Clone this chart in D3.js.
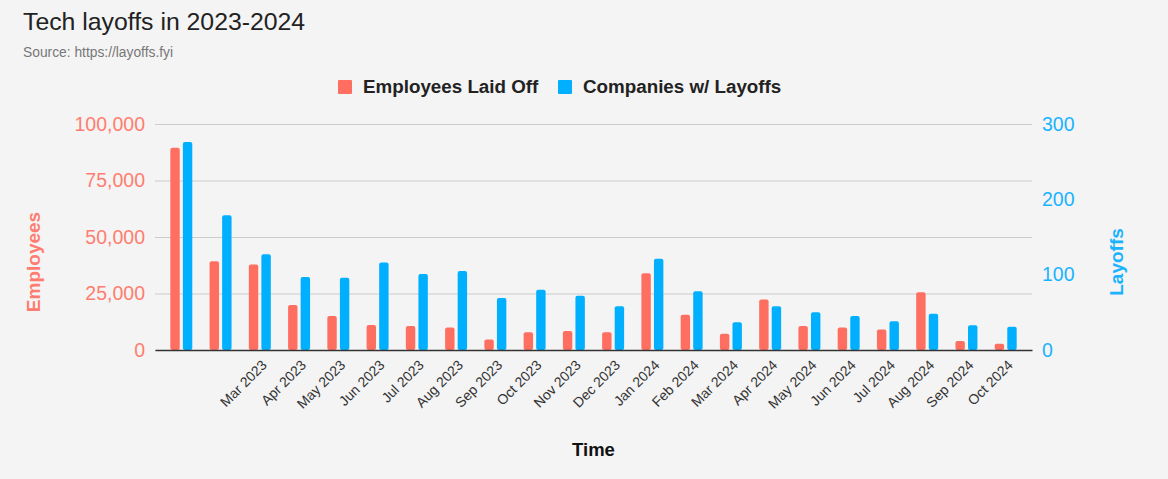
<!DOCTYPE html>
<html>
<head>
<meta charset="utf-8">
<script src="https://cdn.jsdelivr.net/npm/d3@7"></script>
<style>
  body { margin: 0; background: #f4f4f4; }
  text { font-family: Arial, "Liberation Sans", sans-serif; }
</style>
</head>
<body>
<svg id="chart" width="1168" height="479"></svg>
<script>
// data
const months = ["Jan 2023", "Feb 2023", "Mar 2023", "Apr 2023", "May 2023", "Jun 2023",
  "Jul 2023", "Aug 2023", "Sep 2023", "Oct 2023", "Nov 2023", "Dec 2023",
  "Jan 2024", "Feb 2024", "Mar 2024", "Apr 2024", "May 2024", "Jun 2024",
  "Jul 2024", "Aug 2024", "Sep 2024", "Oct 2024"];
// the first two labels are not shown in the original
const tickLabels = ["", "", "Mar 2023", "Apr 2023", "May 2023", "Jun 2023",
  "Jul 2023", "Aug 2023", "Sep 2023", "Oct 2023", "Nov 2023", "Dec 2023",
  "Jan 2024", "Feb 2024", "Mar 2024", "Apr 2024", "May 2024", "Jun 2024",
  "Jul 2024", "Aug 2024", "Sep 2024", "Oct 2024"];
const employeesLaidOff = [89500, 39300, 37800, 19900, 15000, 11100, 10600, 10000, 4600, 7800, 8400, 7800,
  34000, 15600, 7200, 22300, 10600, 10000, 9100, 25500, 4000, 2800];
const companiesWithLayoffs = [276, 179, 127, 97, 96, 116, 101, 105, 69, 80, 72, 58,
  121, 78, 37, 58, 50, 45, 38, 48, 33, 31];
const seriesNames = ["Employees Laid Off", "Companies w/ Layoffs"];
const leftTicks = [0, 25000, 50000, 75000, 100000];
const rightTicks = [0, 100, 200, 300];

const red = "#ff6f61", blue = "#00b0ff";
const plotL = 155, plotR = 1032, plotT = 124, plotB = 350;

const svg = d3.select("#chart");
svg.append("rect").attr("width", 1168).attr("height", 479).attr("fill", "#f4f4f4");

// titles
svg.append("text").attr("x", 23).attr("y", 30)
  .attr("font-size", "24.8px").attr("fill", "#222").text("Tech layoffs in 2023-2024");
svg.append("text").attr("x", 23).attr("y", 57)
  .attr("font-size", "13.8px").attr("fill", "#777").text("Source: https://layoffs.fyi");

// scales
const x = d3.scaleBand().domain(months).range([plotL, plotR])
  .paddingInner(0.44).paddingOuter(0.39);
const x1 = d3.scaleBand().domain([0, 1]).range([0, x.bandwidth()]).paddingInner(0.25);
const yL = d3.scaleLinear().domain([0, 100000]).range([plotB, plotT]);
const yR = d3.scaleLinear().domain([0, 300]).range([plotB, plotT]);

// gridlines
const grid = svg.append("g").attr("transform", `translate(${plotL},0)`)
  .call(d3.axisLeft(yL).tickValues(leftTicks).tickSize(-(plotR - plotL)).tickFormat(""));
grid.select(".domain").remove();
grid.selectAll("line").attr("stroke", "#cccccc");

// left axis
const gL = svg.append("g").attr("transform", `translate(${plotL},0)`)
  .call(d3.axisLeft(yL).tickValues(leftTicks).tickSize(0).tickPadding(10).tickFormat(d3.format(",")));
gL.select(".domain").remove();
gL.selectAll("text").attr("font-size", "19.5px").attr("fill", "#ff7d70")
  .attr("font-family", "Arial, 'Liberation Sans', sans-serif");

// right axis
const gR = svg.append("g").attr("transform", `translate(${plotR},0)`)
  .call(d3.axisRight(yR).tickValues(rightTicks).tickSize(0).tickPadding(10));
gR.select(".domain").remove();
gR.selectAll("text").attr("font-size", "19.5px").attr("fill", "#1ab3ff")
  .attr("font-family", "Arial, 'Liberation Sans', sans-serif");

// bars
const groups = svg.append("g").selectAll("g").data(months).join("g")
  .attr("transform", d => `translate(${x(d)},0)`);
groups.append("rect")
  .attr("x", x1(0)).attr("width", x1.bandwidth())
  .attr("y", (d, i) => yL(employeesLaidOff[i]))
  .attr("height", (d, i) => plotB - yL(employeesLaidOff[i]))
  .attr("rx", 2).attr("fill", red);
groups.append("rect")
  .attr("x", x1(1)).attr("width", x1.bandwidth())
  .attr("y", (d, i) => yR(companiesWithLayoffs[i]))
  .attr("height", (d, i) => plotB - yR(companiesWithLayoffs[i]))
  .attr("rx", 2).attr("fill", blue);

// bottom axis
const gB = svg.append("g").attr("transform", `translate(0,${plotB})`)
  .call(d3.axisBottom(x).tickSize(0).tickFormat((d, i) => tickLabels[i]));
gB.select(".domain").attr("stroke", "#333").attr("stroke-width", 1.3);
gB.selectAll("text")
  .attr("font-size", "14px").attr("fill", "#333")
  .attr("font-family", "Arial, 'Liberation Sans', sans-serif")
  .attr("text-anchor", "end")
  .attr("dy", null).attr("y", null)
  .attr("transform", "translate(8,16) rotate(-45)");

// axis titles
svg.append("text").attr("transform", "translate(40,262) rotate(-90)")
  .attr("text-anchor", "middle").attr("font-size", "19px").attr("font-weight", "bold")
  .attr("fill", "#ff7d70").text("Employees");
svg.append("text").attr("transform", "translate(1123,262) rotate(-90)")
  .attr("text-anchor", "middle").attr("font-size", "19px").attr("font-weight", "bold")
  .attr("fill", "#1ab3ff").text("Layoffs");
svg.append("text").attr("x", (plotL + plotR) / 2).attr("y", 456)
  .attr("text-anchor", "middle").attr("font-size", "18.5px").attr("font-weight", "bold")
  .attr("fill", "#111").text("Time");

// legend
const legendX = [338, 558];
const legend = svg.append("g").selectAll("g").data(seriesNames).join("g")
  .attr("transform", (d, i) => `translate(${legendX[i]},80)`);
legend.append("rect").attr("width", 14).attr("height", 14).attr("rx", 1)
  .attr("fill", (d, i) => [red, blue][i]);
legend.append("text").attr("x", 25).attr("y", 13)
  .attr("font-size", "18.8px").attr("font-weight", "bold").attr("fill", "#222")
  .text(d => d);
</script>
</body>
</html>
